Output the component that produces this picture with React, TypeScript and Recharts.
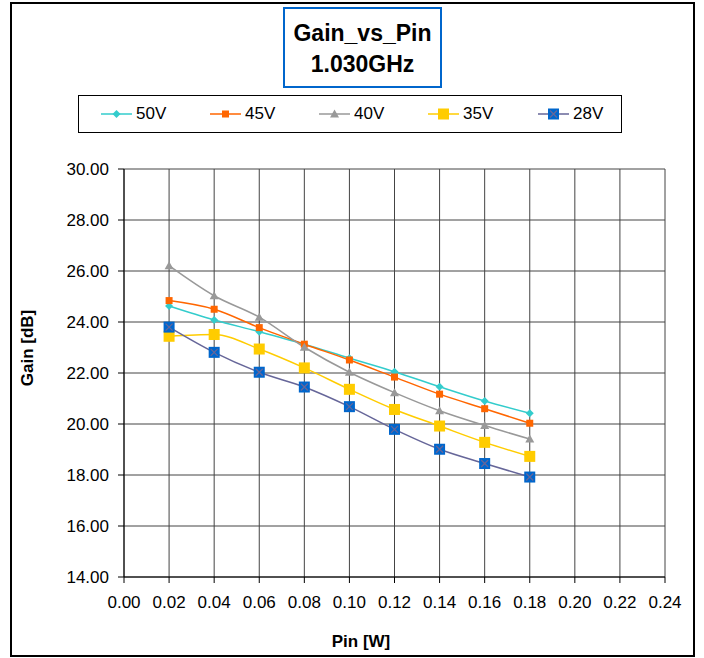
import React from "react";
import { CartesianGrid, Line, LineChart, XAxis, YAxis } from "recharts";

const pin = [0.02, 0.04, 0.06, 0.08, 0.1, 0.12, 0.14, 0.16, 0.18];
const gain50 = [24.63, 24.08, 23.62, 23.13, 22.58, 22.05, 21.46, 20.9, 20.42];
const gain45 = [24.84, 24.5, 23.78, 23.13, 22.51, 21.84, 21.17, 20.6, 20.03];
const gain40 = [26.21, 25.03, 24.19, 23.01, 22.03, 21.23, 20.52, 19.94, 19.41];
const gain35 = [23.44, 23.51, 22.94, 22.2, 21.36, 20.57, 19.92, 19.28, 18.73];
const gain28 = [23.8, 22.81, 22.03, 21.45, 20.68, 19.79, 19.01, 18.45, 17.92];

const xTicks = [0, 0.02, 0.04, 0.06, 0.08, 0.1, 0.12, 0.14, 0.16, 0.18, 0.2, 0.22, 0.24];
const yTicks = [14, 16, 18, 20, 22, 24, 26, 28, 30];

const font = "'Liberation Sans', Arial, sans-serif";

type Shape = "diamond" | "square" | "triangle" | "bigSquare" | "xSquare";

const series: { key: string; name: string; color: string; shape: Shape; values: number[] }[] = [
  { key: "v50", name: "50V", color: "#33CCCC", shape: "diamond", values: gain50 },
  { key: "v45", name: "45V", color: "#FF6600", shape: "square", values: gain45 },
  { key: "v40", name: "40V", color: "#999999", shape: "triangle", values: gain40 },
  { key: "v35", name: "35V", color: "#FFCC00", shape: "bigSquare", values: gain35 },
  { key: "v28", name: "28V", color: "#666699", shape: "xSquare", values: gain28 }
];

const rows = pin.map((p, i) => {
  const row: Record<string, number> = { pin: p };
  for (const s of series) row[s.key] = s.values[i];
  return row;
});

function Marker({ shape, color, cx, cy }: { shape: Shape; color: string; cx: number; cy: number }) {
  if (shape === "diamond") {
    return <path d={`M${cx},${cy - 4} L${cx + 4},${cy} L${cx},${cy + 4} L${cx - 4},${cy} Z`} fill={color} />;
  }
  if (shape === "square") {
    return <rect x={cx - 3.5} y={cy - 3.5} width={7} height={7} fill={color} />;
  }
  if (shape === "triangle") {
    return <path d={`M${cx},${cy - 4.5} L${cx + 4.5},${cy + 3.5} L${cx - 4.5},${cy + 3.5} Z`} fill={color} />;
  }
  if (shape === "bigSquare") {
    return <rect x={cx - 5.5} y={cy - 5.5} width={11} height={11} fill={color} />;
  }
  return (
    <g>
      <rect x={cx - 5.5} y={cy - 5.5} width={11} height={11} fill="#0066CC" />
      <path d={`M${cx - 3.5},${cy - 3.5} L${cx + 3.5},${cy + 3.5} M${cx + 3.5},${cy - 3.5} L${cx - 3.5},${cy + 3.5}`} stroke={color} strokeWidth={1.3} />
    </g>
  );
}

const legendStarts = [100, 209, 318, 427, 537];

function ChartLegend() {
  return (
    <div style={{ position: "absolute", left: 78, top: 95, width: 544, height: 38, border: "1px solid #000", boxSizing: "border-box" }}>
      {series.map((s, i) => {
        const left = legendStarts[i] - 78;
        return (
          <div key={s.key} style={{ position: "absolute", left, top: 0, height: 36, display: "flex", alignItems: "center" }}>
            <svg width={32} height={14} style={{ display: "block" }}>
              <line x1={0} x2={31} y1={7} y2={7} stroke={s.color} strokeWidth={1.5} />
              <Marker shape={s.shape} color={s.color} cx={15.5} cy={7} />
            </svg>
            <span style={{ marginLeft: 3, fontFamily: font, fontSize: 17, color: "#000" }}>{s.name}</span>
          </div>
        );
      })}
    </div>
  );
}

export default function App() {
  return (
    <div style={{ position: "absolute", left: 0, top: 0, width: 704, height: 658, background: "#fff" }}>
      <div style={{ position: "absolute", left: 10, top: 2, width: 685, height: 655, border: "2px solid #000", boxSizing: "border-box" }} />
      <div
        style={{
          position: "absolute",
          left: 283,
          top: 7,
          width: 159,
          height: 81,
          border: "2px solid #0066CC",
          boxSizing: "border-box",
          paddingTop: 9,
          textAlign: "center",
          fontFamily: font,
          fontWeight: "bold",
          fontSize: 23,
          lineHeight: "31px"
        }}
      >
        <div>Gain_vs_Pin</div>
        <div>1.030GHz</div>
      </div>
      <ChartLegend />
      <div style={{ position: "absolute", left: 0, top: 0 }}>
        <LineChart width={704} height={658} data={rows} margin={{ top: 169, right: 39, bottom: 41, left: 54 }}>
          <CartesianGrid stroke="#444" strokeWidth={1} />
          <XAxis
            dataKey="pin"
            type="number"
            domain={[0, 0.24]}
            ticks={xTicks}
            tickFormatter={(v: number) => v.toFixed(2)}
            height={40}
            tickSize={6}
            tickMargin={13}
            stroke="#000"
            tick={{ fill: "#000", fontFamily: font, fontSize: 17 }}
            interval={0}
          />
          <YAxis
            type="number"
            domain={[14, 30]}
            ticks={yTicks}
            tickFormatter={(v: number) => v.toFixed(2)}
            width={70}
            tickSize={6}
            tickMargin={9}
            stroke="#000"
            tick={{ fill: "#000", fontFamily: font, fontSize: 17 }}
            interval={0}
          />
          {series.map((s) => (
            <Line
              key={s.key}
              dataKey={s.key}
              name={s.name}
              type="monotone"
              stroke={s.color}
              strokeWidth={1.5}
              isAnimationActive={false}
              dot={(props: any) => <Marker key={`${s.key}-${props.index}`} shape={s.shape} color={s.color} cx={props.cx} cy={props.cy} />}
              activeDot={false}
            />
          ))}
        </LineChart>
      </div>
      <div
        style={{
          position: "absolute",
          left: 28,
          top: 348,
          transform: "translate(-50%, -50%) rotate(-90deg)",
          fontFamily: font,
          fontWeight: "bold",
          fontSize: 17,
          whiteSpace: "nowrap"
        }}
      >
        Gain [dB]
      </div>
      <div
        style={{
          position: "absolute",
          left: 361,
          top: 642,
          transform: "translate(-50%, -50%)",
          fontFamily: font,
          fontWeight: "bold",
          fontSize: 17,
          whiteSpace: "nowrap"
        }}
      >
        Pin [W]
      </div>
    </div>
  );
}
